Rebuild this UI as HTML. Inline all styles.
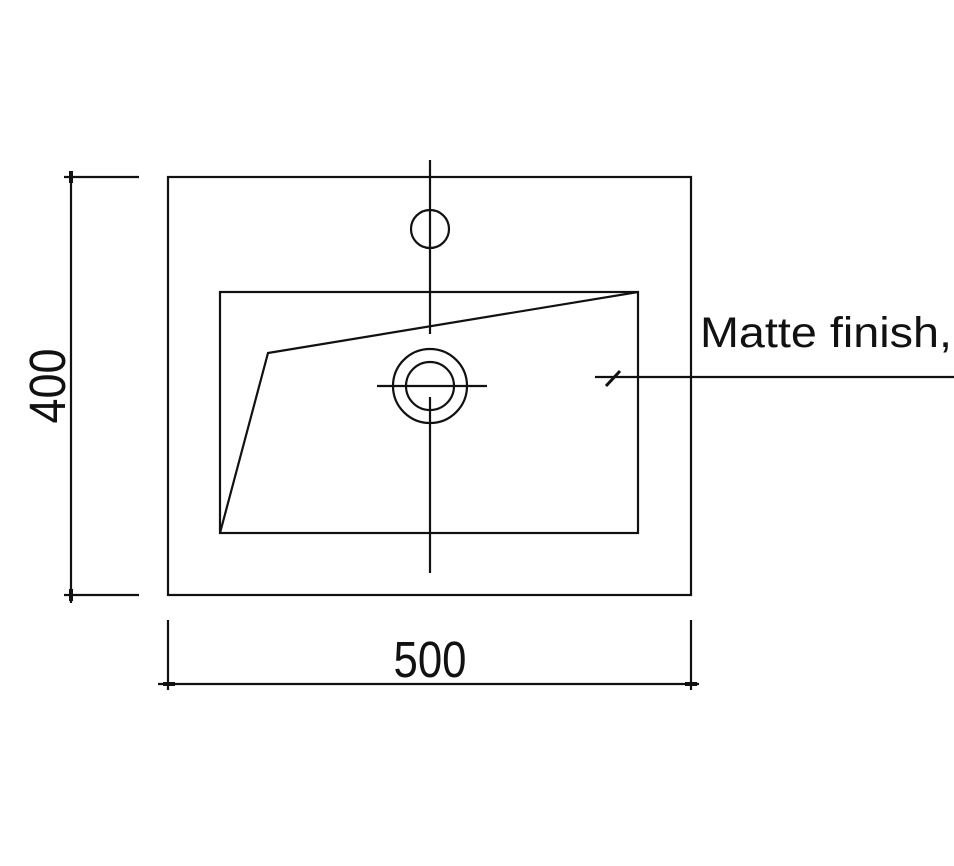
<!DOCTYPE html>
<html><head><style>html,body{margin:0;padding:0;background:#fff;}svg{display:block}</style></head>
<body>
<svg width="954" height="866" viewBox="0 0 954 866" xmlns="http://www.w3.org/2000/svg">
<g fill="none" stroke="#111" stroke-width="2.2">
<rect x="168" y="177" width="523" height="418"/>
<rect x="220" y="292" width="418" height="241"/>
<polyline points="220,533 268,353 638,292"/>
<line x1="430" y1="160" x2="430" y2="334"/>
<line x1="430" y1="397" x2="430" y2="573"/>
<circle cx="430" cy="229" r="19"/>
<circle cx="430" cy="386" r="37"/>
<circle cx="430" cy="386" r="24"/>
<line x1="377" y1="386" x2="487" y2="386"/>
<line x1="595" y1="377" x2="954" y2="377"/>
<line x1="606" y1="386" x2="620" y2="371" stroke-width="3"/>
<line x1="71" y1="171" x2="71" y2="603"/>
<line x1="64" y1="177" x2="139" y2="177"/>
<line x1="64" y1="595" x2="139" y2="595"/>
<line x1="71" y1="171" x2="71" y2="183" stroke-width="4"/>
<line x1="71" y1="589" x2="71" y2="601" stroke-width="4"/>
<line x1="158" y1="684" x2="699" y2="684"/>
<line x1="168" y1="620" x2="168" y2="690"/>
<line x1="691" y1="620" x2="691" y2="690"/>
<line x1="163" y1="684" x2="175" y2="684" stroke-width="4"/>
<line x1="685" y1="684" x2="697" y2="684" stroke-width="4"/>
</g>
<g font-family="Liberation Sans, Arial, sans-serif" fill="#111">
<text x="700" y="347" font-size="43" textLength="252" lengthAdjust="spacingAndGlyphs">Matte finish,</text>
<text x="430" y="677" font-size="51" text-anchor="middle" textLength="73" lengthAdjust="spacingAndGlyphs">500</text>
<text transform="translate(65,386) rotate(-90)" x="0" y="0" font-size="51" text-anchor="middle" textLength="75" lengthAdjust="spacingAndGlyphs">400</text>
</g>
</svg>
</body></html>
